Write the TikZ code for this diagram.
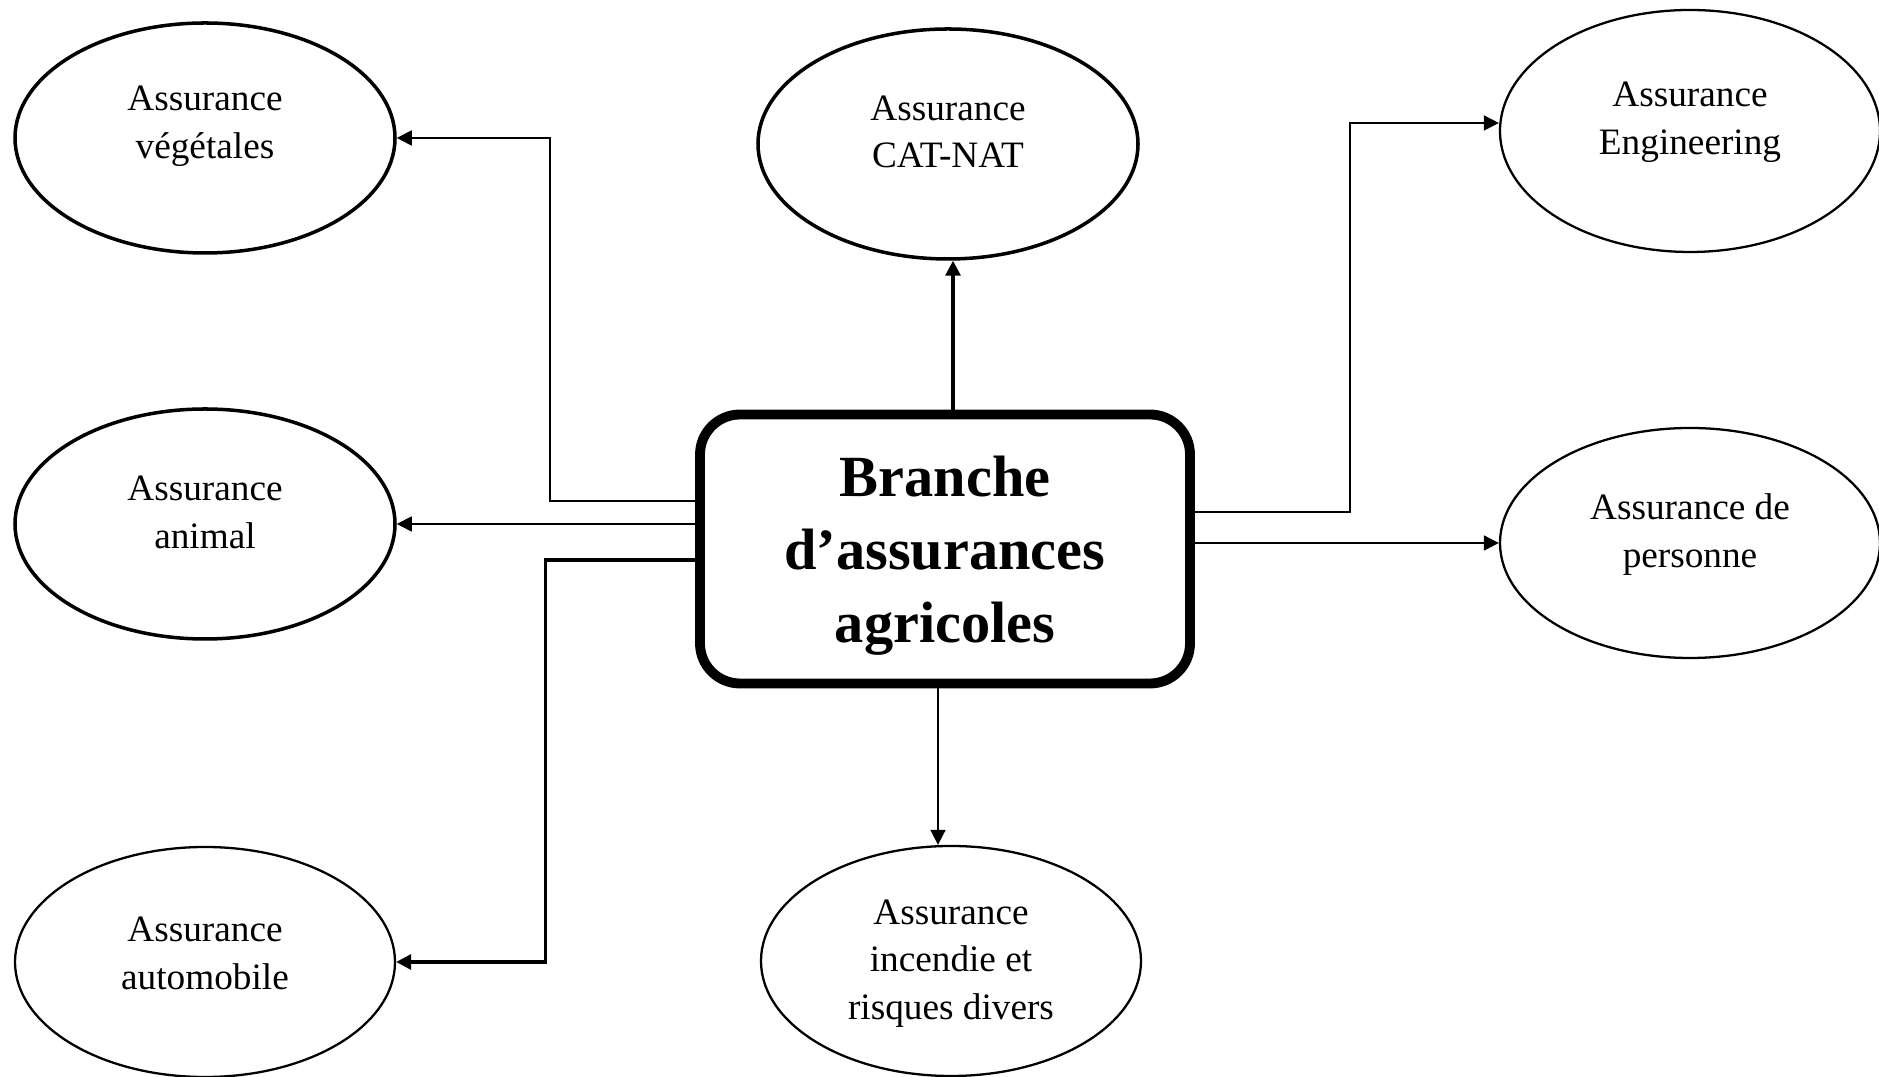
\documentclass[tikz,border=0pt]{standalone}
\usepackage{fontspec}
\setmainfont{Liberation Serif}
\usetikzlibrary{arrows.meta,shapes.geometric}

\tikzset{
    branchellipse/.style={draw, ellipse, minimum width=3.8cm, minimum height=2.3cm, inner sep=0pt, line width=0.65pt},
    heavy/.style={line width=1pt},
    lbl/.style={align=center, font=\fontsize{10.6}{13.6}\selectfont, yshift=1.2mm},
    arr/.style={-{Triangle[length=1.5mm,width=1.5mm]}, line width=0.5pt},
}

\begin{document}
\begin{tikzpicture}
    \useasboundingbox (0,0) rectangle (18.79,10.77);

    % Central box
    \node[draw, rectangle, rounded corners=0.4cm, line width=2.8pt, minimum width=4.9cm, minimum height=2.69cm,
          label={[align=center, font=\fontsize{16.6}{20.8}\selectfont\bfseries, yshift=-0.7mm]center:Branche\\d’assurances\\agricoles}]
          (box) at (9.45,5.28) {};

    % Left column
    \node[branchellipse, heavy, label={[lbl]center:Assurance\\végétales}] (veg) at (2.05,9.39) {};
    \node[branchellipse, heavy, label={[lbl]center:Assurance\\animal}] (animal) at (2.05,5.53) {};
    \node[branchellipse, label={[lbl, yshift=-0.3mm]center:Assurance\\automobile}] (auto) at (2.05,1.15) {};

    % Middle column
    \node[branchellipse, heavy, label={[lbl]center:Assurance\\CAT-NAT}] (catnat) at (9.48,9.33) {};
    \node[branchellipse, label={[lbl, yshift=-1.45mm]center:Assurance\\incendie et\\risques divers}] (incendie) at (9.51,1.16) {};

    % Right column
    \node[branchellipse, minimum height=2.42cm, label={[lbl, yshift=-0.35mm]center:Assurance\\Engineering}] (eng) at (16.90,9.46) {};
    \node[branchellipse, label={[lbl, yshift=-0.35mm]center:Assurance de\\personne}] (pers) at (16.90,5.34) {};

    % Connectors
    \draw[arr] ([yshift=4.8mm]box.west) -- ++(-1.45,0) |- (veg.east);
    \draw[arr] (animal.east -| box.west) -- (animal.east);
    \draw[arr, line width=0.9pt] ([yshift=-1.1mm]box.west) -- ++(-1.5,0) |- (auto.east);
    \draw[arr, line width=0.9pt] ([xshift=0.5mm]catnat.south |- box.north) -- ([xshift=0.5mm]catnat.south);
    \draw[arr] ([xshift=-0.7mm]box.south) -- ([xshift=-0.7mm]box.south |- incendie.north);
    \draw[arr] ([yshift=3.7mm]box.east) -- ++(1.55,0) |- ([yshift=0.8mm]eng.west);
    \draw[arr] (box.east |- pers.west) -- (pers.west);
\end{tikzpicture}
\end{document}
